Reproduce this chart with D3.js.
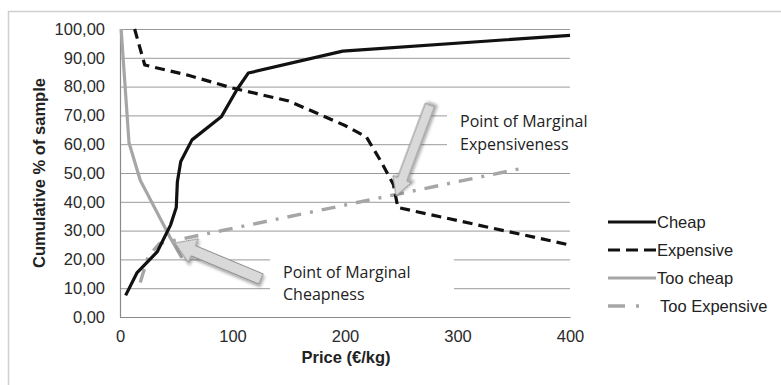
<!doctype html>
<html lang="en">
<head>
  <meta charset="utf-8">
  <title>Price sensitivity</title>
  <style>
  body { margin: 0; background: #fff; }
  svg { display: block; }
  .tick text { font-family: "Liberation Sans", Arial, sans-serif; font-size: 16.5px; fill: #2a2a2a; }
  .grid line { stroke: #9a9a9a; stroke-width: 1; }
  .grid path { display: none; }
  .note { font-family: "Open Sans", "Noto Sans", sans-serif; font-size: 16px; fill: #222; }
  .leg { font-family: "Liberation Sans", Arial, sans-serif; font-size: 16.5px; fill: #222; }
  </style>
</head>
<body>
<div id="chart"></div>
<script src="https://cdnjs.cloudflare.com/ajax/libs/d3/7.8.5/d3.min.js"></script>
<script>

//------------------ data
var cheapPrice = [5, 15, 33, 45, 50, 51, 54, 64, 90, 104, 114, 198, 400];
var cheapPct   = [7.5, 15.3, 22.6, 32, 38, 47, 54, 61.5, 69.5, 79, 84.7, 92.3, 97.8];

var expPrice = [13, 22, 60, 100, 150, 200, 219, 232, 243, 247, 400];
var expPct   = [100, 87.5, 84, 79.5, 75, 66.5, 62.5, 54, 46, 38, 25];

var tooCheapPrice = [1, 8, 18, 28, 44, 55];
var tooCheapPct   = [100, 60.5, 47.5, 40, 28, 20.5];

var tooExpPrice = [18, 25, 35, 362];
var tooExpPct   = [12, 21, 25.5, 52];

var yTicks = [0, 10, 20, 30, 40, 50, 60, 70, 80, 90, 100];
var xTicks = [0, 100, 200, 300, 400];

var seriesNames = ["Cheap", "Expensive", "Too cheap", "Too Expensive"];

//------------------ set up svg
var W = 781, H = 385;
var mLeft = 120, mRight = 570, mTop = 29, mBottom = 317;

var svg = d3.select("#chart").append("svg")
    .attr("width", W).attr("height", H);

// outer frame (top and left edges only)
svg.append("path")
   .attr("d", "M8.5," + H + "V11.5H" + W)
   .attr("fill", "none").attr("stroke", "#cfcfcf").attr("stroke-width", 1.5);

var x = d3.scaleLinear().domain([0, 400]).range([mLeft, mRight]);
var y = d3.scaleLinear().domain([0, 100]).range([mBottom, mTop]);

var defs = svg.append("defs");
var f = defs.append("filter").attr("id", "shadow")
    .attr("x", "-30%").attr("y", "-30%").attr("width", "160%").attr("height", "160%");
f.append("feDropShadow").attr("dx", 2).attr("dy", 2).attr("stdDeviation", 1.5)
    .attr("flood-color", "#000").attr("flood-opacity", 0.35);

//------------------ grid
svg.append("g").attr("class", "grid")
   .attr("transform", "translate(" + mLeft + ",0)")
   .call(d3.axisLeft(y).tickValues(yTicks).tickSize(-(mRight - mLeft)).tickFormat(""));

// white boxes behind the notes hide part of the grid
svg.append("rect").attr("x", 270).attr("y", 250).attr("width", 184).attr("height", 56).attr("fill", "#fff");
svg.append("rect").attr("x", 447).attr("y", 104).attr("width", 130).attr("height", 58).attr("fill", "#fff");

// axes
var yAxis = svg.append("g")
   .attr("transform", "translate(" + mLeft + ",0)")
   .call(d3.axisLeft(y).tickValues(yTicks).tickSize(0).tickPadding(15)
        .tickFormat(function(d){ return d3.format(".2f")(d).replace(".", ","); }));
yAxis.select(".domain").attr("stroke", "#8a8a8a").attr("stroke-width", 1.2);

var xAxis = svg.append("g")
   .attr("transform", "translate(0," + mBottom + ")")
   .call(d3.axisBottom(x).tickValues(xTicks).tickSize(0).tickPadding(13));
xAxis.select(".domain").attr("stroke", "#8a8a8a").attr("stroke-width", 1.2);

svg.append("text")
   .attr("transform", "translate(45," + (mTop + mBottom) / 2 + ") rotate(-90)")
   .attr("text-anchor", "middle")
   .attr("font-family", "Liberation Sans, Arial, sans-serif")
   .attr("font-size", "16.5px").attr("font-weight", "bold").attr("fill", "#222")
   .text("Cumulative % of sample");

svg.append("text")
   .attr("x", (mLeft + mRight) / 2 + 1).attr("y", 363)
   .attr("text-anchor", "middle")
   .attr("font-family", "Liberation Sans, Arial, sans-serif")
   .attr("font-size", "16.5px").attr("font-weight", "bold").attr("fill", "#222")
   .text("Price (€/kg)");

//------------------ lines
var line = d3.line().x(function(d){ return x(d[0]); }).y(function(d){ return y(d[1]); });
function pairs(a, b) { return a.map(function(v, i){ return [v, b[i]]; }); }

var styles = [
  {color: "#111", dash: null, w: 3.2},
  {color: "#111", dash: "10,6", w: 3.2},
  {color: "#a6a6a6", dash: null, w: 3.2},
  {color: "#a6a6a6", dash: "14,9,3,9", w: 3.4}
];
var data = [
  pairs(cheapPrice, cheapPct),
  pairs(expPrice, expPct),
  pairs(tooCheapPrice, tooCheapPct),
  pairs(tooExpPrice, tooExpPct)
];

// draw grey series first so black lines sit on top
[3, 2, 1, 0].forEach(function(i){
  svg.append("path")
     .attr("d", line(data[i]))
     .attr("fill", "none")
     .attr("stroke", styles[i].color)
     .attr("stroke-width", styles[i].w)
     .attr("stroke-dasharray", styles[i].dash)
     .attr("stroke-linejoin", "round");
});

//------------------ block arrows
function arrow(tx, ty, sx, sy, shaft, head, headLen) {
  var dx = sx - tx, dy = sy - ty;
  var L = Math.sqrt(dx * dx + dy * dy);
  var a = Math.atan2(dy, dx) * 180 / Math.PI;
  var pts = [[0, 0], [headLen, -head / 2], [headLen, -shaft / 2], [L, -shaft / 2],
             [L, shaft / 2], [headLen, shaft / 2], [headLen, head / 2]];
  svg.append("polygon")
     .attr("points", pts.map(function(p){ return p.join(","); }).join(" "))
     .attr("transform", "translate(" + tx + "," + ty + ") rotate(" + a + ")")
     .attr("fill", "#d9d9d9").attr("stroke", "#8c8c8c").attr("stroke-width", 1)
     .attr("filter", "url(#shadow)");
}
arrow(175, 243, 261, 279, 11, 26, 20);
arrow(396, 196, 430, 105, 10, 20, 18);

//------------------ notes
svg.append("text").attr("class", "note").attr("x", 283).attr("y", 278).text("Point of Marginal");
svg.append("text").attr("class", "note").attr("x", 283).attr("y", 300).text("Cheapness");
svg.append("text").attr("class", "note").attr("x", 460).attr("y", 127).text("Point of Marginal");
svg.append("text").attr("class", "note").attr("x", 460).attr("y", 150).text("Expensiveness");

//------------------ legend
var legend = svg.append("g").attr("transform", "translate(608,222)");
var legendDash = [null, "12,6", null, "17,11,3,30"];
seriesNames.forEach(function(name, i){
  var g = legend.append("g").attr("transform", "translate(0," + (i * 28) + ")");
  g.append("line").attr("x1", 0).attr("x2", 48).attr("y1", 0).attr("y2", 0)
   .attr("stroke", styles[i].color).attr("stroke-width", styles[i].w)
   .attr("stroke-dasharray", legendDash[i]);
  g.append("text").attr("class", "leg").attr("x", i == 3 ? 52 : 49).attr("y", 6).text(name);
});

</script>
</body>
</html>
